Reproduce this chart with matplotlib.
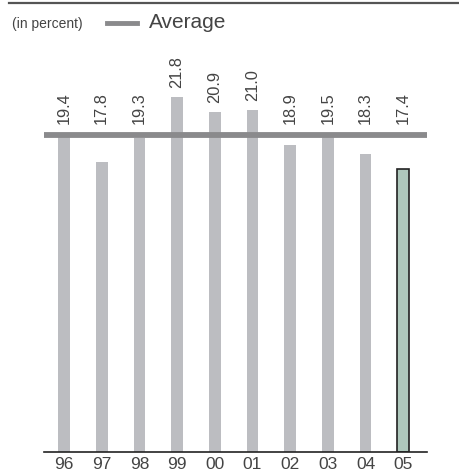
import matplotlib
matplotlib.use("Agg")
import matplotlib.pyplot as plt
from matplotlib.lines import Line2D
import numpy as np

years = ["96", "97", "98", "99", "00", "01", "02", "03", "04", "05"]
values = [19.4, 17.8, 19.3, 21.8, 20.9, 21.0, 18.9, 19.5, 18.3, 17.4]
average = 19.5
unit_label = "(in percent)"
legend_label = "Average"

plt.rcParams['font.family'] = ['Liberation Sans', 'DejaVu Sans']
TXT = "#444444"
BAR = "#bcbdc1"
HL = "#aec8bc"
AVG = "#8a8a8c"

W, H = 460, 474
fig = plt.figure(figsize=(W / 100, H / 100), dpi=100)
ax = fig.add_axes([44 / W, (H - 452) / H, 383 / W, 392 / H])

x = np.arange(len(values))
colors = [BAR] * (len(values) - 1) + [HL]
edges = ["none"] * (len(values) - 1) + ["#222222"]
lws = [0] * (len(values) - 1) + [1.2]
ax.bar(x, values, width=0.31, color=colors, edgecolor=edges, linewidth=lws, zorder=2)
ax.plot([-0.53, 9.63], [average, average], color=AVG, lw=4.2, solid_capstyle='butt', zorder=3)

line_top = average + 0.14
for xi, v in zip(x, values):
    base = max(v, line_top) + 0.55
    ax.text(xi, base, f"{v:.1f}", rotation=90, ha='center', va='bottom',
            fontsize=11.8, color=TXT)

ax.set_xlim(-0.53, 9.63)
ax.set_ylim(0, 24.1)
ax.set_xticks(x)
ax.set_xticklabels(years, fontsize=12.5, color=TXT)
ax.tick_params(axis='x', length=0, pad=3.5)
ax.set_yticks([])
for s in ['top', 'right', 'left']:
    ax.spines[s].set_visible(False)
ax.spines['bottom'].set_color("#222222")
ax.spines['bottom'].set_linewidth(1.2)

# top rule
fig.add_artist(Line2D([9 / W, 1.0], [1 - 2.5 / H, 1 - 2.5 / H], color="#555555", lw=1.6))

# legend row
fig.text(12 / W, 1 - 24 / H, unit_label, fontsize=10, color=TXT, va='center', ha='left')
fig.add_artist(Line2D([107 / W, 137 / W], [1 - 22.5 / H, 1 - 22.5 / H], color=AVG, lw=3.5))
fig.text(149 / W, 1 - 23 / H, legend_label, fontsize=15, color=TXT, va='center', ha='left')

fig.savefig("out.png", dpi=100)
